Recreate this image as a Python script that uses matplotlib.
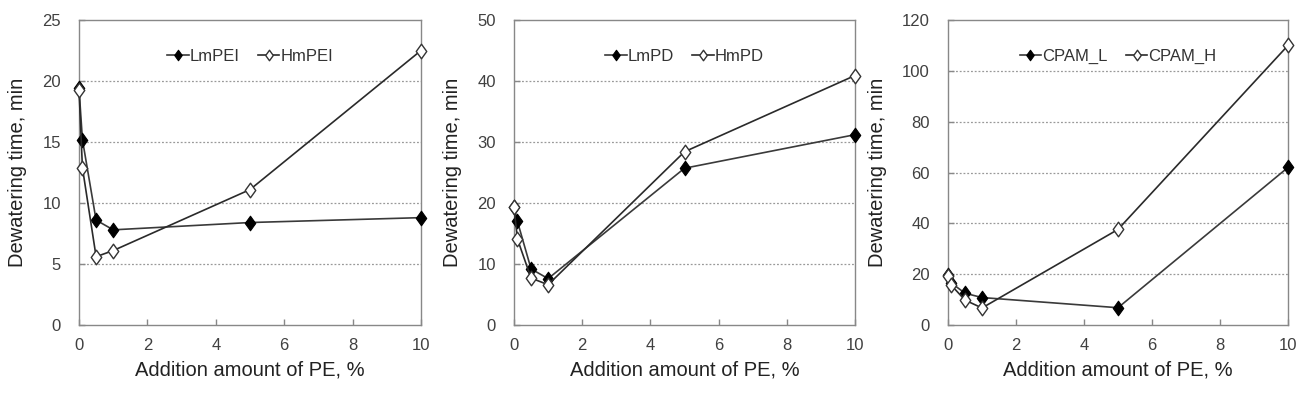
import matplotlib
matplotlib.use("Agg")
import matplotlib.pyplot as plt
from matplotlib.path import Path

plt.rcParams['font.family'] = ['Liberation Sans', 'DejaVu Sans']

x = [0, 0.1, 0.5, 1, 5, 10]

# Panel 1
lm_pei = [19.4, 15.2, 8.6, 7.8, 8.4, 8.8]
hm_pei = [19.3, 12.9, 5.6, 6.1, 11.1, 22.5]
# Panel 2
lm_pd = [19.4, 17.0, 9.2, 7.6, 25.7, 31.2]
hm_pd = [19.3, 14.1, 7.7, 6.6, 28.4, 40.9]
# Panel 3
cpam_l = [19.5, 16.5, 12.5, 10.8, 6.8, 62.0]
cpam_h = [19.4, 15.6, 9.8, 6.7, 37.6, 110.0]

panels = [
    (lm_pei, hm_pei, "LmPEI", "HmPEI", 25, [0, 5, 10, 15, 20, 25]),
    (lm_pd, hm_pd, "LmPD", "HmPD", 50, [0, 10, 20, 30, 40, 50]),
    (cpam_l, cpam_h, "CPAM_L", "CPAM_H", 120, [0, 20, 40, 60, 80, 100, 120]),
]
xticks = [0, 2, 4, 6, 8, 10]

diamond = Path([(0, 1), (0.72, 0), (0, -1), (-0.72, 0), (0, 1)],
               [Path.MOVETO, Path.LINETO, Path.LINETO, Path.LINETO, Path.CLOSEPOLY])

W, H = 1312, 395
fig = plt.figure(figsize=(W / 100, H / 100), dpi=100)
lefts = [79, 514, 948]
rights = [421, 855, 1288]
top, bottom = 20, 325

for (lo, hi, l1, l2, ymax, yt), L, R in zip(panels, lefts, rights):
    ax = fig.add_axes([L / W, 1 - bottom / H, (R - L) / W, (bottom - top) / H])
    ax.plot(x, lo, '-', color='#3a3a3a', lw=1.2, marker=diamond, ms=10.5,
            mfc='black', mec='black', mew=0.8, label=l1, zorder=3, clip_on=False)
    ax.plot(x, hi, '-', color='#2a2a2a', lw=1.2, marker=diamond, ms=10.5,
            mfc='white', mec='#333333', mew=1.0, label=l2, zorder=4, clip_on=False)
    ax.set_xlim(0, 10)
    ax.set_ylim(0, ymax)
    ax.set_xticks(xticks)
    ax.set_yticks(yt)
    for v in yt[1:-1]:
        ax.axhline(v, color='#999999', lw=0.9, ls=(0, (1.5, 1.5)), zorder=1)
    for s in ax.spines.values():
        s.set_color('#888888')
        s.set_linewidth(1.0)
    ax.tick_params(direction='in', length=4, width=1, color='#888888',
                   labelsize=12, labelcolor='#404040')
    ax.tick_params(axis='x', pad=9)
    ax.tick_params(axis='y', pad=13)
    ax.set_xlabel("Addition amount of PE, %", fontsize=14.5, color='#222222', labelpad=6)
    ax.set_ylabel("Dewatering time, min", fontsize=14.5, color='#222222', labelpad=11)
    ax.legend(loc='upper center', bbox_to_anchor=(0.5, 0.955), ncol=2, frameon=False,
              fontsize=12, handlelength=1.3, handletextpad=0.05, columnspacing=1.1,
              markerscale=0.72, labelcolor='#333333')

fig.savefig("out.png", dpi=100)
